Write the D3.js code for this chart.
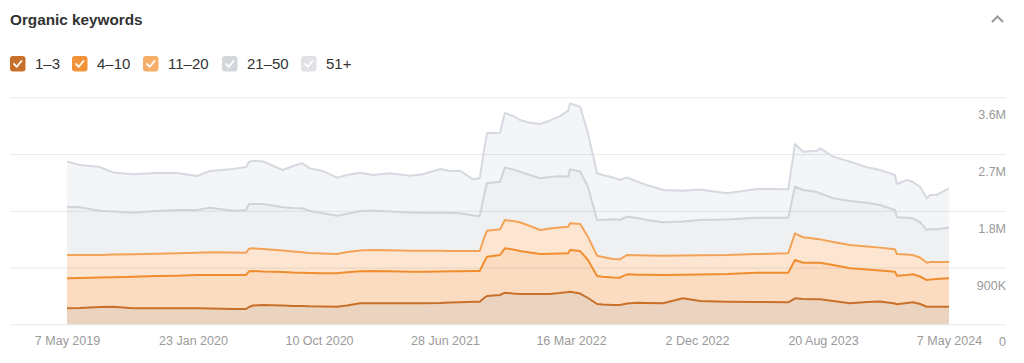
<!DOCTYPE html>
<html>
<head>
<meta charset="utf-8">
<script src="https://cdn.jsdelivr.net/npm/d3@7"></script>
<style>
  body { margin: 0; background: #fff; font-family: "Helvetica Neue", Arial, "Liberation Sans", sans-serif; }
</style>
</head>
<body>
<svg id="chart" width="1024" height="363"></svg>
<script>
// keyword counts (thousands) per position bucket
var dates = ["2019-05-07","2019-06-03","2019-07-14","2019-08-10","2019-09-21","2019-11-09","2019-12-21","2020-01-31","2020-02-27","2020-04-15",
  "2020-05-12","2020-05-18","2020-05-26","2020-06-16","2020-07-27","2020-08-17","2020-09-05","2020-09-21","2020-10-18","2020-11-16",
  "2020-12-07","2021-01-03","2021-01-30","2021-03-06","2021-04-17","2021-05-13","2021-06-18","2021-07-08","2021-07-29","2021-08-25",
  "2021-09-08","2021-09-17","2021-09-23","2021-10-20","2021-10-30","2021-11-16","2021-11-30","2021-12-21","2022-01-11","2022-01-31",
  "2022-02-21","2022-03-10","2022-03-14","2022-04-04","2022-04-20","2022-05-09","2022-05-21","2022-06-11","2022-06-25","2022-07-10",
  "2022-07-31","2022-08-20","2022-09-23","2022-11-03","2022-12-08","2023-02-02","2023-04-05","2023-06-09","2023-06-23","2023-07-10",
  "2023-08-08","2023-08-14","2023-09-10","2023-10-15","2023-11-19","2023-12-16","2024-01-16","2024-01-20","2024-02-10","2024-02-22",
  "2024-03-08","2024-03-22","2024-03-29","2024-04-12","2024-05-07"];

var pos1_3 = [254,258,274,279,254,254,254,254,251,243, 243,274,298,306,298,290,290,285,282,279,
  298,333,333,333,333,333,338,346,349,357, 358,417,449,465,501,488,481,481,481,481,
  496,512,517,488,417,322,314,306,306,330, 343,338,333,412,370,358,354,349,412,401,
  396,396,370,333,354,362,330,317,338,349, 322,279,279,279,279];

var pos4_10 = [476,476,468,466,501,512,517,528,531,539, 539,566,547,531,531,531,528,528,527,530,
  527,507,512,507,501,501,500,495,493,488, 487,571,623,634,704,698,682,658,634,639,
  626,614,661,674,603,444,441,436,433,463, 444,447,449,373,420,439,465,469,607,576,
  580,580,571,555,515,492,504,454,444,444, 436,423,431,439,450];

var pos11_20 = [370,365,357,362,355,354,355,354,360,357, 354,358,360,357,341,333,324,317,314,306,
  322,330,333,333,333,333,330,322,320,317, 317,381,412,408,449,452,455,420,381,400,
  412,422,423,428,370,322,312,293,292,306, 308,306,306,306,304,301,295,308,423,403,
  376,371,365,370,365,362,355,344,325,306, 301,274,278,270,260];

var pos21_50 = [766,756,703,682,660,677,687,677,707,663, 677,709,703,714,685,690,698,666,638,607,
  607,626,626,615,606,603,603,603,598,563, 555,682,752,755,833,817,802,809,820,817,
  812,793,856,833,793,566,592,630,623,607, 592,563,530,539,560,563,576,565,739,750,
  745,730,693,698,695,677,623,582,584,582, 563,519,523,519,546];

var pos51 = [714,671,693,619,609,603,587,539,582,661, 682,671,687,674,592,666,714,677,671,603,
  614,607,563,606,584,609,693,666,676,574, 598,714,793,777,864,848,820,829,861,893,
  956,1047,1047,1028,852,741,709,663,634,625, 576,555,512,488,484,416,455,450,677,607,
  655,714,660,623,561,555,555,528,598,576, 560,503,539,544,619];

var legendLabels = ["1–3", "4–10", "11–20", "21–50", "51+"];
var xTickDates = ["2019-05-07","2020-01-23","2020-10-10","2021-06-28","2022-03-16","2022-12-02","2023-08-20","2024-05-07"];
var yTickValues = [0, 900, 1800, 2700, 3600];

var keys = ["p1", "p2", "p3", "p4", "p5"];
var lineColors = ["#c8702a", "#f08d2f", "#f3a357", "#d0d4da", "#d6d9df"];
var fillColors = ["#ebd4bf", "#fbdcc1", "#fde6d1", "#eff0f2", "#f4f5f7"];
var boxColors = ["#c8702a", "#f29237", "#f6ae68", "#d3d6db", "#e0e2e6"];

var parseDate = d3.timeParse("%Y-%m-%d");

var table = dates.map(function(d, i) {
  return { date: parseDate(d), p1: pos1_3[i], p2: pos4_10[i], p3: pos11_20[i], p4: pos21_50[i], p5: pos51[i] };
});

var svg = d3.select("#chart");

var xScale = d3.scaleTime()
  .domain([parseDate(dates[0]), parseDate(dates[dates.length - 1])])
  .range([67, 949]);

var yScale = d3.scaleLinear()
  .domain([0, 3600])
  .range([324.3, 97.3]);

var series = d3.stack().keys(keys)(table);

// title + collapse chevron
svg.append("text")
  .attr("x", 10)
  .attr("y", 24.5)
  .attr("font-size", 15.3)
  .attr("font-weight", "bold")
  .attr("fill", "#333")
  .text("Organic keywords");

svg.append("path")
  .attr("d", "M992,22 L997.5,16.5 L1003,22")
  .attr("fill", "none")
  .attr("stroke", "#9a9a9a")
  .attr("stroke-width", 2);

// legend
var legendX = [10, 72, 143, 222, 301];
var legend = svg.selectAll(".legend")
  .data(legendLabels)
  .enter()
  .append("g")
  .attr("class", "legend")
  .attr("transform", (d, i) => `translate(${legendX[i]},56)`);

legend.append("rect")
  .attr("width", 15.5)
  .attr("height", 15.5)
  .attr("rx", 3)
  .attr("fill", (d, i) => boxColors[i]);

legend.append("path")
  .attr("d", "M4,8 L6.8,10.8 L11.5,5")
  .attr("fill", "none")
  .attr("stroke", "#fff")
  .attr("stroke-width", 1.8)
  .attr("stroke-linecap", "round")
  .attr("stroke-linejoin", "round");

legend.append("text")
  .attr("x", 25)
  .attr("y", 12.5)
  .attr("font-size", 15)
  .attr("fill", "#333")
  .text(d => d);

// stacked areas
var area = d3.area()
  .x(d => xScale(d.data.date))
  .y0(d => yScale(d[0]))
  .y1(d => yScale(d[1]));

svg.append("g").selectAll("path")
  .data(series)
  .enter()
  .append("path")
  .attr("d", area)
  .attr("fill", (d, i) => fillColors[i]);

// gridlines over the fills
svg.append("g")
  .attr("transform", "translate(1006,0)")
  .call(d3.axisLeft(yScale).tickValues(yTickValues).tickSize(996).tickFormat(""))
  .call(g => g.select(".domain").remove())
  .call(g => g.selectAll("line").attr("stroke", "rgba(0,0,0,0.085)"));

// top edge of each band
var line = d3.line()
  .x(d => xScale(d.data.date))
  .y(d => yScale(d[1]));

svg.append("g").selectAll("path")
  .data(series)
  .enter()
  .append("path")
  .attr("d", line)
  .attr("fill", "none")
  .attr("stroke", (d, i) => lineColors[i])
  .attr("stroke-width", 2)
  .attr("stroke-linejoin", "round");

// axes labels
var xAxis = d3.axisBottom(xScale)
  .tickValues(xTickDates.map(parseDate))
  .tickSize(0)
  .tickPadding(12)
  .tickFormat(d3.timeFormat("%-d %b %Y"));

svg.append("g")
  .attr("transform", "translate(0,324.3)")
  .call(xAxis)
  .call(g => g.select(".domain").remove())
  .call(g => g.selectAll("text")
    .attr("font-size", 12.5)
    .attr("font-family", "\"Helvetica Neue\", Arial, \"Liberation Sans\", sans-serif")
    .attr("fill", "#9a9a9a"));

var yAxis = d3.axisLeft(yScale)
  .tickValues(yTickValues)
  .tickSize(0)
  .tickPadding(0)
  .tickFormat(v => v === 0 ? "0" : v < 1000 ? v + "K" : (v / 1000) + "M");

svg.append("g")
  .attr("transform", "translate(1006,0)")
  .call(yAxis)
  .call(g => g.select(".domain").remove())
  .call(g => g.selectAll("text")
    .attr("dy", "1.72em")
    .attr("font-size", 12.5)
    .attr("font-family", "\"Helvetica Neue\", Arial, \"Liberation Sans\", sans-serif")
    .attr("fill", "#9a9a9a"));
</script>
</body>
</html>
